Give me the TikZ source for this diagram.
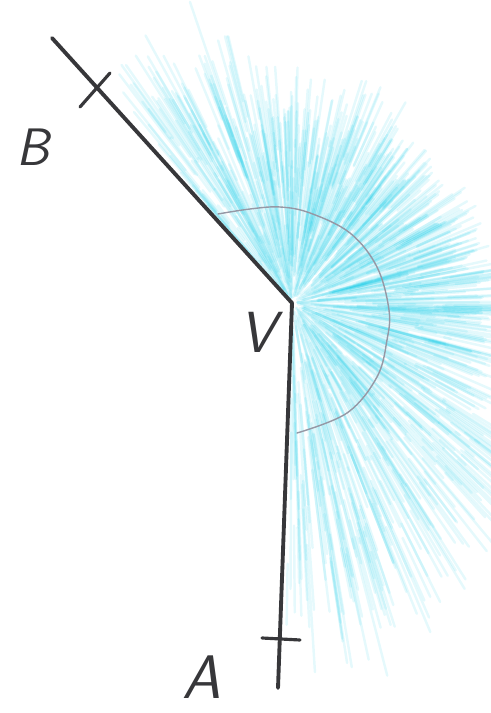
\documentclass[tikz,border=0pt]{standalone}
\definecolor{pencil}{RGB}{55,55,58}
\definecolor{crayon}{RGB}{0,198,228}
\definecolor{arcgray}{RGB}{150,152,165}
\begin{document}
\begin{tikzpicture}[line cap=round, line join=round,
	ray/.style={draw=pencil, line width=2.2pt},
	tick/.style={draw=pencil, line width=1.8pt},
	hatch/.style={draw=crayon, line width=1.4pt, opacity=0.10},
	arcline/.style={draw=arcgray, line width=0.8pt},
	lbl/.style={text=pencil, inner sep=0pt}]
	\useasboundingbox (0,0) rectangle (9.82,14.26);
	\coordinate (V) at (5.84,8.20);
	\coordinate (Bend) at (1.04,13.50);
	\coordinate (Aend) at (5.56,0.50);
	\coordinate (tB1) at (1.60,12.12);
	\coordinate (tB2) at (2.20,12.80);
	\coordinate (tA1) at (5.24,1.50);
	\coordinate (tA2) at (6.00,1.46);
	% crayon strokes fanning out from the vertex
	\begin{scope}
		\clip (0,0) rectangle (9.82,14.26);
		\pgfmathsetseed{11}
		\foreach \aone/\atwo/\len/\num in {100/131/6.4/140, 60/100/4.8/170, 10/60/4.2/200,
			-30/10/5.0/170, -60/-30/6.9/150, -91/-60/7.9/150}{
			\foreach \k in {1,...,\num}{
				\pgfmathsetmacro\ang{\aone+(\atwo-\aone)*rnd}
				\pgfmathsetmacro\rbeg{0.1+0.65*\len*rnd}
				\pgfmathsetmacro\rend{min(\len*(0.75+0.25*rnd),\rbeg+0.8+2.4*rnd)}
				\draw[hatch] ([shift={(\ang:\rbeg)}]V) -- ([shift={(\ang:\rend)}]V);
			}
		}
	\end{scope}
	\draw[arcline] plot[smooth, tension=0.6] coordinates {(4.36,9.98) (5.00,10.08)
		(5.60,10.12) (6.20,10.00) (7.00,9.60) (7.54,8.92) (7.78,8.06) (7.74,7.46)
		(7.54,6.72) (6.94,6.00) (5.94,5.60)};
	\draw[ray] (Bend) -- (V) -- (Aend);
	\draw[tick] (tB1) -- (tB2);
	\draw[tick] (tA1) -- (tA2);
	\node[lbl, font=\fontsize{30}{30}\sffamily\itshape] (B) at (0.66,11.32) {B};
	\node[lbl, font=\fontsize{35}{35}\sffamily\itshape] (A) at (4.04,0.72) {A};
	\node[lbl, font=\fontsize{33}{33}\sffamily\itshape] (Vlbl) at (5.16,7.62) {V};
\end{tikzpicture}
\end{document}
